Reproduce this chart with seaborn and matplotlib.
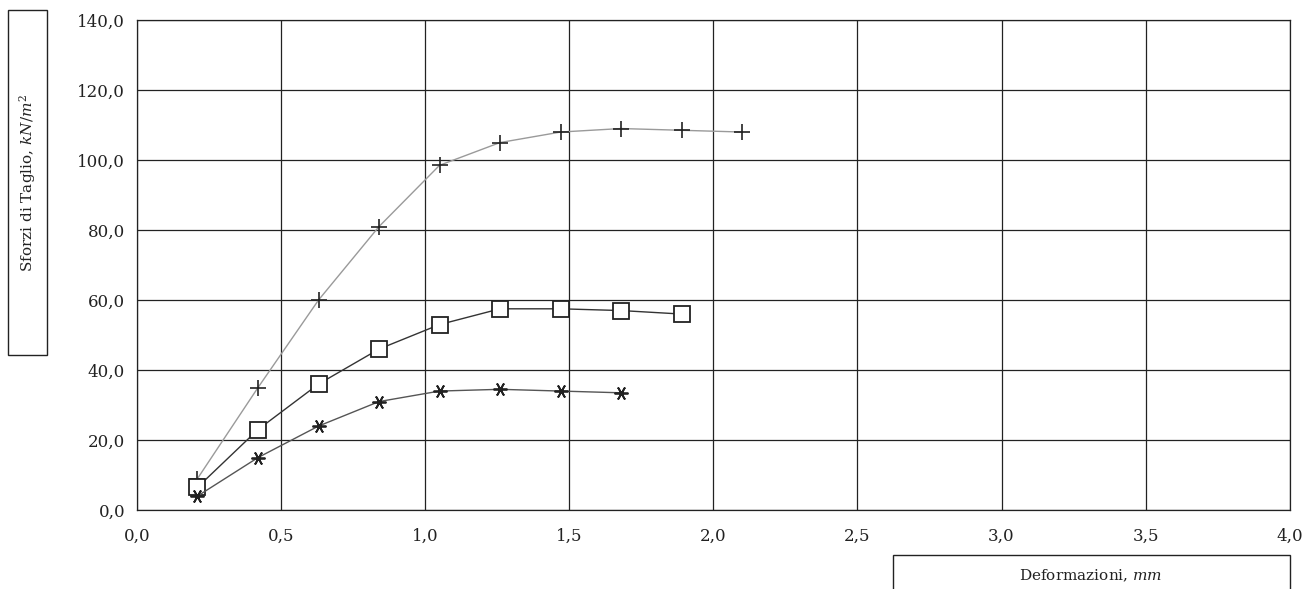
import matplotlib
matplotlib.use("Agg")
import matplotlib.pyplot as plt
import seaborn as sns
import pandas as pd
from matplotlib.ticker import FuncFormatter
from matplotlib.patches import Rectangle

x_plus = [0.21, 0.42, 0.63, 0.84, 1.05, 1.26, 1.47, 1.68, 1.89, 2.10]
y_plus = [9.0, 35.0, 60.0, 81.0, 98.5, 105.0, 108.0, 109.0, 108.5, 108.0]
x_sq = [0.21, 0.42, 0.63, 0.84, 1.05, 1.26, 1.47, 1.68, 1.89]
y_sq = [6.5, 23.0, 36.0, 46.0, 53.0, 57.5, 57.5, 57.0, 56.0]
x_st = [0.21, 0.42, 0.63, 0.84, 1.05, 1.26, 1.47, 1.68]
y_st = [4.0, 15.0, 24.0, 31.0, 34.0, 34.5, 34.0, 33.5]

sns.set_theme(style="white")
plt.rcParams['font.family'] = ['DejaVu Serif']
plt.rcParams['mathtext.fontset'] = 'dejavuserif'

fig = plt.figure(figsize=(13.12, 5.89), dpi=100)
ax = fig.add_axes([0.1044, 0.134, 0.8786, 0.832])

df_p = pd.DataFrame({"x": x_plus, "y": y_plus})
df_s = pd.DataFrame({"x": x_sq, "y": y_sq})
df_t = pd.DataFrame({"x": x_st, "y": y_st})

sns.lineplot(data=df_p, x="x", y="y", ax=ax, color="#9a9a9a", lw=1.0,
             marker="+", markersize=11, markeredgewidth=1.2, markeredgecolor="#222222")
sns.lineplot(data=df_s, x="x", y="y", ax=ax, color="#333333", lw=1.0,
             marker="s", markersize=11, markerfacecolor="white", markeredgewidth=1.3, markeredgecolor="#222222")
sns.lineplot(data=df_t, x="x", y="y", ax=ax, color="#555555", lw=1.0,
             marker=(6, 2, 90), markersize=10, markeredgewidth=1.3, markeredgecolor="#222222")

ax.set_xlim(0, 4.0)
ax.set_ylim(0, 140)
ax.set_xticks([0, 0.5, 1.0, 1.5, 2.0, 2.5, 3.0, 3.5, 4.0])
ax.set_yticks(range(0, 141, 20))
fmt = FuncFormatter(lambda v, p: f"{v:.1f}".replace(".", ","))
ax.xaxis.set_major_formatter(fmt)
ax.yaxis.set_major_formatter(fmt)
ax.grid(True, color="#222222", lw=0.9)
ax.set_axisbelow(True)
for s in ax.spines.values():
    s.set_color("#222222")
    s.set_linewidth(0.9)
ax.tick_params(axis="both", labelsize=12, colors="#222222", length=5, direction="out", width=0.9)
ax.tick_params(axis="x", pad=8)
ax.set_xlabel("")
ax.set_ylabel("")

W, H = 1312.0, 589.0
# y-label box
fig.patches.append(Rectangle((8 / W, 1 - 355 / H), 39 / W, 345 / H, transform=fig.transFigure,
                             facecolor="white", edgecolor="#222222", lw=1.0))
fig.text(27.5 / W, 1 - 183 / H, "Sforzi di Taglio, $kN/m^2$", rotation=90, ha="center", va="center",
         fontsize=11, color="#222222")
# x-label box
fig.patches.append(Rectangle((893 / W, -0.01), 397 / W, 0.01 + 34 / H, transform=fig.transFigure,
                             facecolor="white", edgecolor="#222222", lw=1.0))
fig.text(1091 / W, 1 - 576 / H, "Deformazioni, $mm$", ha="center", va="center", fontsize=11, color="#222222")

fig.savefig("out.png", dpi=100)
